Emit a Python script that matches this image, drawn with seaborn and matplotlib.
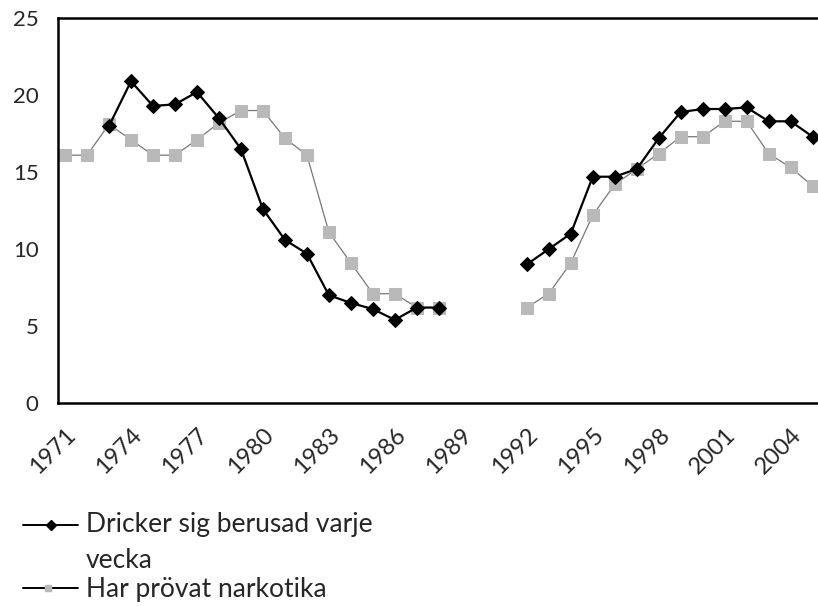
import numpy as np
import pandas as pd
import matplotlib
matplotlib.use("Agg")
import matplotlib.pyplot as plt
import seaborn as sns
from matplotlib.lines import Line2D

years = list(range(1971, 2006))
# Dricker sig berusad varje vecka (1989-1991 missing)
drunk = [np.nan, np.nan, 18.0, 20.9, 19.3, 19.4, 20.2, 18.5, 16.5, 12.6,
         10.6, 9.7, 7.0, 6.5, 6.1, 5.4, 6.2, 6.2, np.nan, np.nan,
         np.nan, 9.0, 10.0, 11.0, 14.7, 14.7, 15.2, 17.2, 18.9, 19.1,
         19.1, 19.2, 18.3, 18.3, 17.3]
# Har prövat narkotika
drugs = [16.1, 16.1, 18.1, 17.1, 16.1, 16.1, 17.1, 18.2, 19.0, 19.0,
         17.2, 16.1, 11.1, 9.1, 7.1, 7.1, 6.2, 6.2, np.nan, np.nan,
         np.nan, 6.2, 7.1, 9.1, 12.2, 14.2, 15.2, 16.2, 17.3, 17.3,
         18.3, 18.3, 16.2, 15.3, 14.1]
xticks = list(range(1971, 2005, 3))

label_drunk = ["Dricker sig berusad varje", "vecka"]
label_drugs = "Har prövat narkotika"

df = pd.DataFrame({"year": years, "drunk": drunk, "drugs": drugs})
df["period"] = np.where(df["year"] < 1990, 0, 1)

sns.set_style("white")
plt.rcParams["font.family"] = ["Lato", "DejaVu Sans"]

W, H = 818, 606
fig = plt.figure(figsize=(W / 100, H / 100), dpi=100)
ax = fig.add_axes([0.0709, 0.335, 0.936, 0.635])

# draw each period separately so the 1989-1991 gap stays open
for p, seg in df.groupby("period"):
    s = seg.dropna(subset=["drugs"])
    sns.lineplot(data=s, x="year", y="drugs", ax=ax, color="#777777",
                 linewidth=0.9, marker="s", markersize=8.5,
                 markerfacecolor="#b9b9b9", markeredgecolor="#b9b9b9",
                 zorder=2)
    s = seg.dropna(subset=["drunk"])
    sns.lineplot(data=s, x="year", y="drunk", ax=ax, color="black",
                 linewidth=1.6, marker="D", markersize=7,
                 markerfacecolor="black", markeredgecolor="black",
                 zorder=3)

ax.set_xlim(1970.68, 2005.5)
ax.set_ylim(0, 25)
ax.set_yticks(range(0, 26, 5))
ax.set_xticks(xticks)
ax.set_xticklabels([str(y) for y in xticks], rotation=45, ha="right",
                   rotation_mode="anchor", fontsize=17)
ax.tick_params(axis="y", labelsize=16, length=0, pad=14)
ax.tick_params(axis="x", length=0, pad=15)
ax.set_xlabel("")
ax.set_ylabel("")
for side in ["left", "top", "bottom"]:
    ax.spines[side].set_color("black")
    ax.spines[side].set_linewidth(1.8)
ax.spines["right"].set_visible(False)

# legend below the plot, first handle lined up with the first text line
def fx(px):
    return px / W

def fy(py):
    return 1 - py / H

fig.add_artist(Line2D([fx(23), fx(78)], [fy(525), fy(525)], color="black",
                      linewidth=1.4, transform=fig.transFigure))
fig.add_artist(Line2D([fx(50.5)], [fy(525)], marker="D", markersize=5,
                      color="black", transform=fig.transFigure))
fig.add_artist(Line2D([fx(23), fx(78)], [fy(588), fy(588)], color="black",
                      linewidth=1.4, transform=fig.transFigure))
fig.add_artist(Line2D([fx(48)], [fy(588)], marker="s", markersize=5,
                      color="#b9b9b9", transform=fig.transFigure))
fig.text(fx(86), fy(532), label_drunk[0], fontsize=19, va="baseline")
fig.text(fx(86), fy(568), label_drunk[1], fontsize=19, va="baseline")
fig.text(fx(86), fy(597), label_drugs, fontsize=19, va="baseline")

fig.savefig("out.png", dpi=100)
